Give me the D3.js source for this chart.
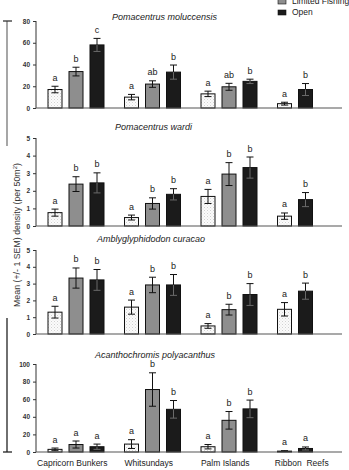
<!DOCTYPE html>
<html>
<head>
<meta charset="utf-8">
<script src="https://cdn.jsdelivr.net/npm/d3@7"></script>
<style>
  body { margin: 0; background: #fff; }
  svg { display: block; font-family: "Liberation Sans", Arial, sans-serif; }
</style>
</head>
<body>
<div id="chart"></div>
<script>
// sites along the x axis, zones as bar colours
var sites = ["Capricorn Bunkers", "Whitsundays", "Palm Islands", "Ribbon  Reefs"];
var zones = ["Protected", "Limited Fishing", "Open"];

var speciesNames = [
  "Pomacentrus moluccensis",
  "Pomacentrus wardi",
  "Amblyglyphidodon curacao",
  "Acanthochromis polyacanthus"
];
var yMax = [80, 5, 5, 100];
var yTicks = [[0, 20, 40, 60, 80], [0, 1, 2, 3, 4, 5], [0, 1, 2, 3, 4, 5], [0, 20, 40, 60, 80, 100]];

// means [site][zone], null = not sampled
var moluccensisMean = [[17, 33.5, 58], [10, 22, 33], [13, 19.5, 24.5], [4, null, 17]];
var moluccensisSem = [[3, 4, 6], [2.5, 3, 6.5], [2.5, 3.2, 2], [1.3, null, 5.5]];
var moluccensisLetters = [["a", "b", "c"], ["a", "ab", "b"], ["a", "ab", "b"], ["a", null, "b"]];

var wardiMean = [[0.76, 2.38, 2.45], [0.48, 1.28, 1.8], [1.68, 2.95, 3.32], [0.56, null, 1.5]];
var wardiSem = [[0.2, 0.42, 0.57], [0.14, 0.32, 0.32], [0.4, 0.65, 0.6], [0.18, null, 0.4]];
var wardiLetters = [["a", "b", "b"], ["a", "b", "b"], ["a", "b", "b"], ["a", null, "b"]];

var curacaoMean = [[1.3, 3.33, 3.22], [1.6, 2.92, 2.92], [0.48, 1.45, 2.35], [1.47, null, 2.55]];
var curacaoSem = [[0.35, 0.6, 0.62], [0.42, 0.46, 0.62], [0.14, 0.32, 0.65], [0.4, null, 0.48]];
var curacaoLetters = [["a", "b", "b"], ["a", "b", "b"], ["a", "b", "b"], ["a", null, "b"]];

var polyacanthusMean = [[3, 8.5, 6], [9, 71, 48.5], [6, 36, 49], [1, null, 4]];
var polyacanthusSem = [[1.5, 4, 3], [5, 19, 10], [2.5, 10, 10], [0.5, null, 1.7]];
var polyacanthusLetters = [["a", "a", "a"], ["a", "b", "b"], ["a", "b", "b"], ["a", null, "a"]];

var allMeans = [moluccensisMean, wardiMean, curacaoMean, polyacanthusMean];
var allSems = [moluccensisSem, wardiSem, curacaoSem, polyacanthusSem];
var allLetters = [moluccensisLetters, wardiLetters, curacaoLetters, polyacanthusLetters];

// layout of each panel: top of y axis, zero line, title position
var panelTop = [21, 138, 250, 364];
var panelZero = [108, 226, 334, 452];
var titleX = [112, 115, 97, 95];
var titleY = [20, 129.5, 241.5, 357.5];

var zoneFill = ["url(#stipple)", "#8e8e8e", "#1b1b1b"];

var width = 349, height = 470;
var axisLeft = 36, axisRight = 342;

var svg = d3.select("#chart").append("svg")
  .attr("width", width)
  .attr("height", height);

var defs = svg.append("defs");
var pat = defs.append("pattern")
  .attr("id", "stipple")
  .attr("patternUnits", "userSpaceOnUse")
  .attr("width", 3).attr("height", 3);
pat.append("rect").attr("width", 3).attr("height", 3).attr("fill", "#fbfbfb");
pat.append("rect").attr("x", 0).attr("y", 0).attr("width", 1).attr("height", 1).attr("fill", "#d2d2d2");
pat.append("rect").attr("x", 1.5).attr("y", 1.5).attr("width", 1).attr("height", 1).attr("fill", "#e0e0e0");

var xSite = d3.scaleBand()
  .domain(sites)
  .range([axisLeft, axisRight]);

var xSlot = d3.scaleBand()
  .domain([0, 1, 2])
  .range([12, 68])
  .paddingInner(1 / 3);

speciesNames.forEach(function (name, p) {
  var y = d3.scaleLinear()
    .domain([0, yMax[p]])
    .range([panelZero[p], panelTop[p]]);

  var g = svg.append("g");

  g.append("text")
    .attr("x", titleX[p])
    .attr("y", titleY[p])
    .style("font-size", "9px")
    .style("font-style", "italic")
    .attr("fill", "#222")
    .text(name);

  // flatten bars for this panel
  var bars = [];
  sites.forEach(function (site, s) {
    var slot = 0;
    zones.forEach(function (zone, z) {
      var m = allMeans[p][s][z];
      if (m === null) return;
      bars.push({
        site: site, zone: z, slot: slot,
        mean: m, sem: allSems[p][s][z], letter: allLetters[p][s][z]
      });
      slot++;
    });
  });

  function cx(d) {
    return xSite(d.site) + xSlot(d.slot) + xSlot.bandwidth() / 2;
  }
  var hi = function (d) { return y(d.mean + d.sem); };
  var lo = function (d) { return y(Math.max(0, d.mean - d.sem)); };

  g.selectAll(".bar").data(bars).enter().append("rect")
    .attr("class", "bar")
    .attr("x", function (d) { return xSite(d.site) + xSlot(d.slot); })
    .attr("y", function (d) { return y(d.mean); })
    .attr("width", xSlot.bandwidth())
    .attr("height", function (d) { return y(0) - y(d.mean); })
    .attr("fill", function (d) { return zoneFill[d.zone]; })
    .attr("stroke", "#111")
    .attr("stroke-width", 1);

  var err = g.selectAll(".err").data(bars).enter().append("g")
    .attr("class", "err")
    .attr("stroke-width", 1);
  // upper whisker
  err.append("line")
    .attr("stroke", "#111")
    .attr("x1", cx).attr("x2", cx)
    .attr("y1", hi)
    .attr("y2", function (d) { return y(d.mean); });
  err.append("line")
    .attr("stroke", "#111")
    .attr("x1", function (d) { return cx(d) - 3.5; })
    .attr("x2", function (d) { return cx(d) + 3.5; })
    .attr("y1", hi).attr("y2", hi);
  // lower whisker, inside the bar
  err.append("line")
    .attr("stroke", function (d) { return d.zone === 2 ? "#6a6a6a" : "#111"; })
    .attr("x1", cx).attr("x2", cx)
    .attr("y1", function (d) { return y(d.mean); })
    .attr("y2", lo);
  err.append("line")
    .attr("stroke", function (d) { return d.zone === 2 ? "#6a6a6a" : "#111"; })
    .attr("x1", function (d) { return cx(d) - 3.5; })
    .attr("x2", function (d) { return cx(d) + 3.5; })
    .attr("y1", lo).attr("y2", lo);

  g.selectAll(".letter").data(bars).enter().append("text")
    .attr("class", "letter")
    .attr("x", cx)
    .attr("y", function (d) { return hi(d) - 5.5; })
    .attr("text-anchor", "middle")
    .style("font-size", "9px")
    .attr("fill", "#222")
    .text(function (d) { return d.letter; });

  // y axis
  var yAxis = g.append("g")
    .attr("transform", "translate(" + axisLeft + ",0)")
    .call(d3.axisLeft(y)
      .tickValues(yTicks[p])
      .tickFormat(d3.format("d"))
      .tickSize(3)
      .tickPadding(3));
  yAxis.select(".domain").attr("stroke", "#333").attr("d", "M0," + y(yMax[p]) + "V" + y(0));
  yAxis.selectAll(".tick line").attr("stroke", "#333");
  yAxis.selectAll(".tick text")
    .style("font-size", "6.5px")
    .style("font-weight", "bold")
    .attr("fill", "#333")
    .attr("font-family", null);

  // baseline
  g.append("line")
    .attr("x1", axisLeft).attr("x2", axisRight)
    .attr("y1", y(0)).attr("y2", y(0))
    .attr("stroke", "#555")
    .attr("stroke-width", 1.2);

  if (p === speciesNames.length - 1) {
    g.selectAll(".site").data(sites).enter().append("text")
      .attr("class", "site")
      .attr("x", function (d) { return xSite(d) + xSite.bandwidth() / 2 - 2; })
      .attr("y", panelZero[p] + 14)
      .attr("text-anchor", "middle")
      .style("font-size", "8.5px")
      .style("white-space", "pre")
      .attr("fill", "#222")
      .text(function (d) { return d; });
  }
});

// legend: the first entry sits above the visible area in the original
var legend = svg.append("g");
zones.slice(1).forEach(function (zone, i) {
  var ly = 4 + i * 11;
  legend.append("rect")
    .attr("x", 278).attr("y", ly - 5)
    .attr("width", 8).attr("height", 5)
    .attr("fill", zoneFill[i + 1])
    .attr("stroke", "#111").attr("stroke-width", 0.6);
  legend.append("text")
    .attr("x", 292).attr("y", ly)
    .style("font-size", "8.5px")
    .attr("fill", "#222")
    .text(zone);
});

// shared y title with bracket lines
svg.append("line")
  .attr("x1", 7).attr("x2", 7).attr("y1", 21).attr("y2", 146)
  .attr("stroke", "#777").attr("stroke-width", 1.3);
svg.append("line")
  .attr("x1", 3).attr("x2", 12).attr("y1", 21).attr("y2", 21)
  .attr("stroke", "#333").attr("stroke-width", 1.3);
svg.append("line")
  .attr("x1", 7).attr("x2", 7).attr("y1", 318).attr("y2", 452)
  .attr("stroke", "#222").attr("stroke-width", 1.3);
svg.append("line")
  .attr("x1", 3).attr("x2", 12).attr("y1", 452).attr("y2", 452)
  .attr("stroke", "#222").attr("stroke-width", 1.3);

var yTitle = svg.append("text")
  .attr("transform", "translate(20,235) rotate(-90)")
  .attr("text-anchor", "middle")
  .style("font-size", "8.8px")
  .attr("fill", "#333");
yTitle.append("tspan").text("Mean (+/- 1 SEM) density  (per 50m");
yTitle.append("tspan").attr("dy", -3).style("font-size", "6px").text("2");
yTitle.append("tspan").attr("dy", 3).text(")");
</script>
</body>
</html>
